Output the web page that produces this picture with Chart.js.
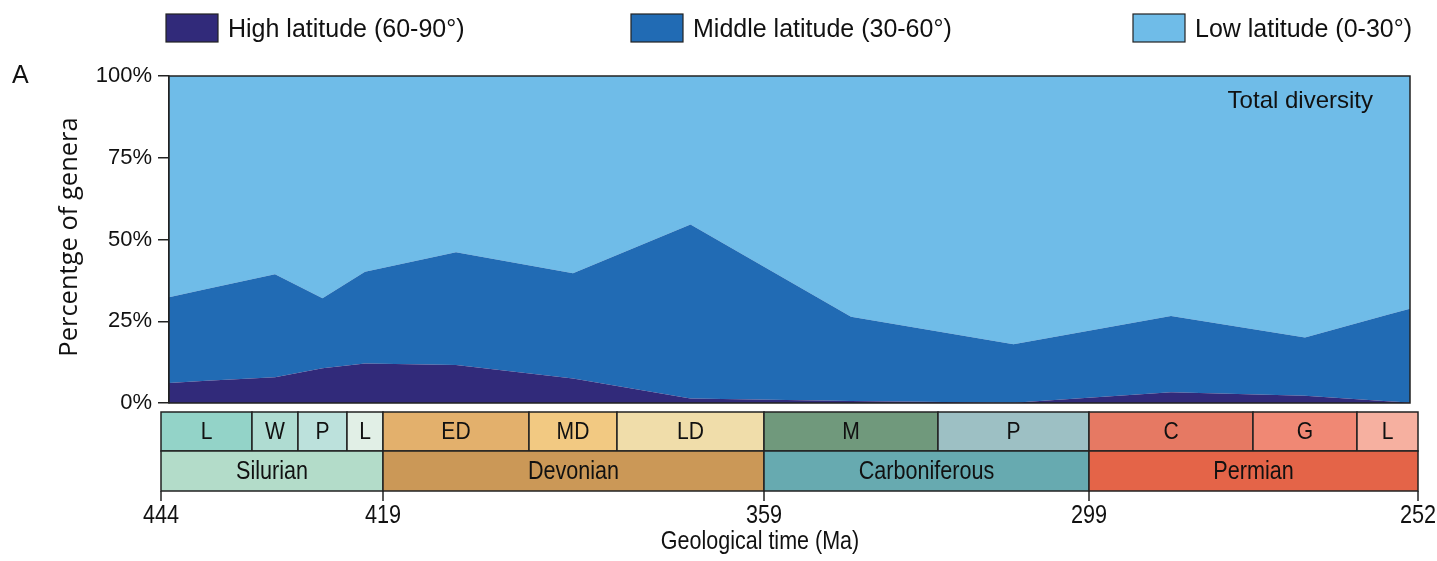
<!DOCTYPE html>
<html>
<head>
<meta charset="utf-8">
<script src="https://cdn.jsdelivr.net/npm/chart.js@4/dist/chart.umd.min.js"></script>
<style>
  body { margin: 0; background: #fff; }
  canvas { display: block; }
</style>
</head>
<body>
<canvas id="myChart" width="1437" height="561"></canvas>
<script>
//////////////////// Data /////////////////////
// one point per stage (stage midpoint), plus the values at the
// two ends of the time bar (444 Ma and 252 Ma)
const pointNames = ['444 Ma', 'L', 'W', 'P', 'L', 'ED', 'MD', 'LD', 'M', 'P', 'C', 'G', 'L', '252 Ma'];
const highLat   = [6.0, 6.8, 7.9, 10.6, 12.1, 11.6, 7.5, 1.4, 0.6, 0.1, 3.3, 2.2, 0.5, 0];
const middleLat = [25.8, 28.1, 31.5, 21.4, 28.0, 34.5, 32.2, 53.2, 25.8, 17.9, 23.3, 17.8, 26.5, 29.5];
const lowLat    = [68.2, 65.1, 60.6, 68.0, 59.9, 53.9, 60.3, 45.4, 73.6, 82.0, 73.4, 80.0, 73.0, 70.5];

//////////////////// Time bar (not to scale in Ma) ////////////////
const stageNames = ['L', 'W', 'P', 'L', 'ED', 'MD', 'LD', 'M', 'P', 'C', 'G', 'L'];
const stageSpans = [91, 46, 49, 36, 146, 88, 147, 174, 151, 164, 104, 61];   // timeline units
const stageColors = ['#93d3c8', '#afdcd2', '#bce1dc', '#e1efe6', '#e3b06c', '#f2c982', '#f0ddaa',
                     '#70997c', '#9dc0c4', '#e67963', '#f08874', '#f6b0a0'];
const periodNames = ['Silurian', 'Devonian', 'Carboniferous', 'Permian'];
const periodStageCount = [4, 3, 2, 3];
const periodColors = ['#b3dcc9', '#cb9857', '#67aab0', '#e46448'];
const periodAges = [444, 419, 359, 299, 252];

const seriesNames = ['High latitude (60-90°)', 'Middle latitude (30-60°)', 'Low latitude (0-30°)'];
const seriesColors = ['#312a7a', '#216bb4', '#6fbce8'];
///////////////////////////////////////////////////////////////////

// x of each point = stage midpoint along the time bar
const timelineTotal = stageSpans.reduce((a, b) => a + b, 0);
const pointX = [0];
let run = 0;
stageSpans.forEach(s => { pointX.push(run + s / 2); run += s; });
pointX.push(timelineTotal);

const toPoints = arr => arr.map((v, i) => ({ x: pointX[i], y: v }));

const FONT = '"Liberation Sans", Arial, sans-serif';

// draws text squeezed horizontally (the figure uses a narrow face)
function narrowText(ctx, text, x, y, size, squeeze) {
    ctx.save();
    ctx.font = size + 'px ' + FONT;
    ctx.translate(x, y);
    ctx.scale(squeeze, 1);
    ctx.fillText(text, 0, 0);
    ctx.restore();
}

//////////// Legend, labels, frame and time bar ////////////
const decorations = {
    id: 'decorations',
    afterDatasetsDraw(chart) {
        const { ctx, chartArea: { left, top, width, height } } = chart;
        ctx.save();
        ctx.strokeStyle = '#222';
        ctx.lineWidth = 1.5;
        ctx.strokeRect(left, top, width, height);
        ctx.fillStyle = '#111';
        ctx.font = '24px ' + FONT;
        ctx.textAlign = 'right';
        ctx.textBaseline = 'middle';
        ctx.fillText('Total diversity', 1373, 101);
        ctx.restore();
    },
    afterDraw(chart) {
        const { ctx, scales: { x } } = chart;
        ctx.save();

        // legend
        const legendX = [166, 631, 1133];
        ctx.textBaseline = 'middle';
        ctx.textAlign = 'left';
        seriesNames.forEach((name, i) => {
            ctx.fillStyle = seriesColors[i];
            ctx.fillRect(legendX[i], 14, 52, 28);
            ctx.strokeStyle = '#222';
            ctx.lineWidth = 1.2;
            ctx.strokeRect(legendX[i], 14, 52, 28);
            ctx.fillStyle = '#111';
            ctx.font = '25px ' + FONT;
            ctx.fillText(name, legendX[i] + 62, 30);
        });

        // panel letter
        ctx.font = '25px ' + FONT;
        ctx.fillText('A', 12, 76);

        // y title
        ctx.save();
        ctx.translate(70, 237);
        ctx.rotate(-Math.PI / 2);
        ctx.textAlign = 'center';
        ctx.font = '25.5px "Open Sans", sans-serif';
        ctx.fillText('Percentge of genera', 0, 0);
        ctx.restore();

        // time bar: stages row
        const rowTop = 412, rowMid = 451, rowBot = 491;
        ctx.lineWidth = 1.5;
        ctx.strokeStyle = '#222';
        ctx.textAlign = 'center';
        let edge = 0;
        stageNames.forEach((name, i) => {
            const x0 = x.getPixelForValue(edge);
            const x1 = x.getPixelForValue(edge + stageSpans[i]);
            ctx.fillStyle = stageColors[i];
            ctx.fillRect(x0, rowTop, x1 - x0, rowMid - rowTop);
            ctx.strokeRect(x0, rowTop, x1 - x0, rowMid - rowTop);
            ctx.fillStyle = '#111';
            narrowText(ctx, name, (x0 + x1) / 2, (rowTop + rowMid) / 2 + 1, 24.5, 0.86);
            edge += stageSpans[i];
        });

        // periods row
        edge = 0;
        let k = 0;
        const bounds = [0];
        periodNames.forEach((name, p) => {
            let span = 0;
            for (let j = 0; j < periodStageCount[p]; j++) span += stageSpans[k++];
            const x0 = x.getPixelForValue(edge);
            const x1 = x.getPixelForValue(edge + span);
            ctx.fillStyle = periodColors[p];
            ctx.fillRect(x0, rowMid, x1 - x0, rowBot - rowMid);
            ctx.strokeRect(x0, rowMid, x1 - x0, rowBot - rowMid);
            ctx.fillStyle = '#111';
            narrowText(ctx, name, (x0 + x1) / 2, (rowMid + rowBot) / 2 + 1, 26, 0.83);
            edge += span;
            bounds.push(edge);
        });

        // age ticks
        bounds.forEach((b, i) => {
            const px = x.getPixelForValue(b);
            ctx.beginPath();
            ctx.moveTo(px, rowBot);
            ctx.lineTo(px, rowBot + 10);
            ctx.stroke();
            ctx.fillStyle = '#111';
            narrowText(ctx, String(periodAges[i]), px, 516, 25.5, 0.85);
        });
        ctx.fillStyle = '#111';
        narrowText(ctx, 'Geological time (Ma)', 760, 542, 25, 0.86);
        ctx.restore();
    }
};
/////////////////////////////////////////////////////////

const data = {
    datasets: [{
        label: seriesNames[0],
        data: toPoints(highLat),
        backgroundColor: seriesColors[0],
        fill: 'origin'
    }, {
        label: seriesNames[1],
        data: toPoints(middleLat),
        backgroundColor: seriesColors[1],
        fill: '-1'
    }, {
        label: seriesNames[2],
        data: toPoints(lowLat),
        backgroundColor: seriesColors[2],
        fill: '-1'
    }]
};

const config = {
    type: 'line',
    data: data,
    options: {
        responsive: false,
        animation: false,
        layout: { padding: { top: 76, right: 27, bottom: 158, left: 0 } },
        elements: {
            point: { radius: 0 },
            line: { borderWidth: 0, tension: 0 }
        },
        plugins: {
            legend: { display: false },
            tooltip: { enabled: false }
        },
        scales: {
            x: {
                type: 'linear',
                display: false,
                // plot box sits a little inside the time bar
                min: 8,
                max: timelineTotal - 8
            },
            y: {
                stacked: true,
                min: 0,
                max: 100,
                afterFit(scale) { scale.width = 169; },
                border: { display: true, color: '#222', width: 1.5 },
                grid: { drawOnChartArea: false, tickLength: 11, color: '#222', lineWidth: 1.5 },
                ticks: {
                    stepSize: 25,
                    padding: 6,
                    color: '#111',
                    font: { family: FONT, size: 22 },
                    callback: v => v + '%'
                }
            }
        }
    },
    plugins: [decorations]
};

const myChart = new Chart(document.getElementById('myChart').getContext('2d'), config);
</script>
</body>
</html>
